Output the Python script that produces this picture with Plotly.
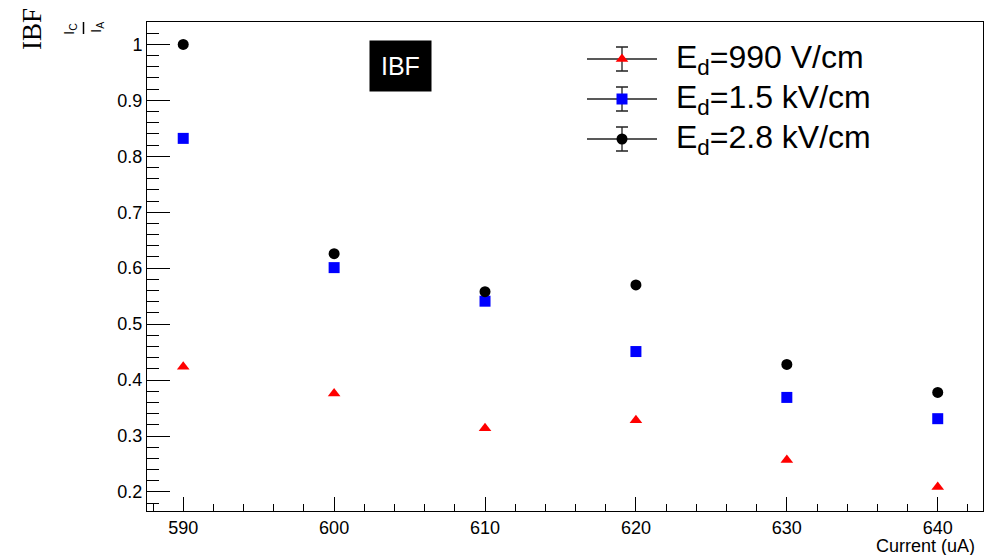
import plotly.graph_objects as go

# ---------------- data ----------------
currents = [590, 600, 610, 620, 630, 640]
ibf_990 = [0.424, 0.376, 0.314, 0.328, 0.257, 0.209]
ibf_1p5 = [0.832, 0.601, 0.541, 0.451, 0.369, 0.331]
ibf_2p8 = [1.000, 0.626, 0.558, 0.570, 0.428, 0.378]
series_names = ["E<sub>d</sub>=990 V/cm", "E<sub>d</sub>=1.5 kV/cm", "E<sub>d</sub>=2.8 kV/cm"]
series_colors = ["#ff0000", "#0000ff", "#000000"]
series_symbols = ["triangle-up", "square", "circle"]
series_sizes = [11, 11, 11]

W, H = 997, 555
L, R, T, B = 147, 983, 22, 511

fig = go.Figure()

for ys, name, col, sym, sz in zip([ibf_990, ibf_1p5, ibf_2p8], series_names,
                                   series_colors, series_symbols, series_sizes):
    fig.add_trace(go.Scatter(x=currents, y=ys, mode="markers", name=name,
                             marker=dict(color=col, symbol=sym, size=sz,
                                         line=dict(width=0)),
                             showlegend=False))

# ------------- manual ROOT-style legend (pixel coords on hidden axes) -------------
leg_rows_y = [59, 99, 139]
leg_x = 622
for yy, name, col, sym, sz in zip(leg_rows_y, series_names, series_colors,
                                  series_symbols, series_sizes):
    fig.add_trace(go.Scatter(
        x=[leg_x], y=[yy], xaxis="x2", yaxis="y2", mode="markers",
        marker=dict(color=col, symbol=sym, size=sz, line=dict(width=0)),
        error_x=dict(type="data", array=[35], color="#222222", thickness=1.3, width=0),
        error_y=dict(type="data", array=[12], color="#222222", thickness=1.3, width=6),
        showlegend=False, hoverinfo="skip"))
    fig.add_annotation(x=674, y=yy, xref="x2", yref="y2", text=name,
                       showarrow=False, xanchor="left", yanchor="middle",
                       font=dict(family="Liberation Sans, Arial", size=32, color="#000000"))

def px(x):
    return (x - L) / (R - L)

def py(y):
    return (B - y) / (B - T)

# IBF label box
fig.add_annotation(x=px(400), y=py(66), xref="paper", yref="paper", text="IBF",
                   showarrow=False, bgcolor="#000000", borderpad=11,
                   xanchor="center", yanchor="middle",
                   font=dict(family="Liberation Sans, Arial", size=25, color="#ffffff"))

# y axis title: IBF  I_C / I_A
fig.add_annotation(x=px(32), y=py(29), xref="paper", yref="paper", text="IBF",
                   showarrow=False, textangle=-90, xanchor="center", yanchor="middle",
                   font=dict(family="Liberation Serif, Times New Roman", size=27, color="#000000"))
fig.add_annotation(x=px(70), y=py(29), xref="paper", yref="paper", text="I<sub>C</sub>",
                   showarrow=False, textangle=-90, xanchor="center", yanchor="middle",
                   font=dict(family="Liberation Sans, Arial", size=15, color="#000000"))
fig.add_annotation(x=px(96), y=py(28), xref="paper", yref="paper", text="I<sub>A</sub>",
                   showarrow=False, textangle=-90, xanchor="center", yanchor="middle",
                   font=dict(family="Liberation Sans, Arial", size=15, color="#000000"))
fig.add_shape(type="line", xref="paper", yref="paper", x0=px(83.5), x1=px(83.5),
              y0=py(22), y1=py(34), line=dict(color="#000000", width=1.5))

# x axis title
fig.add_annotation(x=px(977), y=0, xref="paper", yref="paper", text="Current (uA)",
                   showarrow=False, xanchor="right", yanchor="middle", yshift=-35,
                   font=dict(family="Liberation Sans, Arial", size=18, color="#000000"))

tickfont = dict(family="Liberation Sans, Arial", size=18, color="#000000")
fig.update_layout(
    width=W, height=H,
    margin=dict(l=L, r=W - R, t=T, b=H - B),
    paper_bgcolor="#ffffff", plot_bgcolor="#ffffff",
    showlegend=False,
    xaxis=dict(range=[587.6, 643.0], showgrid=False, zeroline=False,
               showline=True, linecolor="#000000", linewidth=1, mirror=True,
               ticks="inside", ticklen=14, tickcolor="#000000", tickwidth=1,
               tick0=590, dtick=10, tickfont=tickfont,
               minor=dict(ticks="inside", ticklen=7, dtick=2, tickcolor="#000000",
                          tickwidth=1, showgrid=False)),
    yaxis=dict(range=[0.166, 1.04], showgrid=False, zeroline=False,
               showline=True, linecolor="#000000", linewidth=1, mirror=True,
               ticks="inside", ticklen=23, tickcolor="#000000", tickwidth=1,
               tick0=0.2, dtick=0.1, tickfont=tickfont, tickformat="~g",
               minor=dict(ticks="inside", ticklen=12, dtick=0.02, tickcolor="#000000",
                          tickwidth=1, showgrid=False)),
    xaxis2=dict(range=[L, R], overlaying="x", visible=False, fixedrange=True),
    yaxis2=dict(range=[B, T], overlaying="y", visible=False, fixedrange=True),
)

fig.write_html("out.html")
